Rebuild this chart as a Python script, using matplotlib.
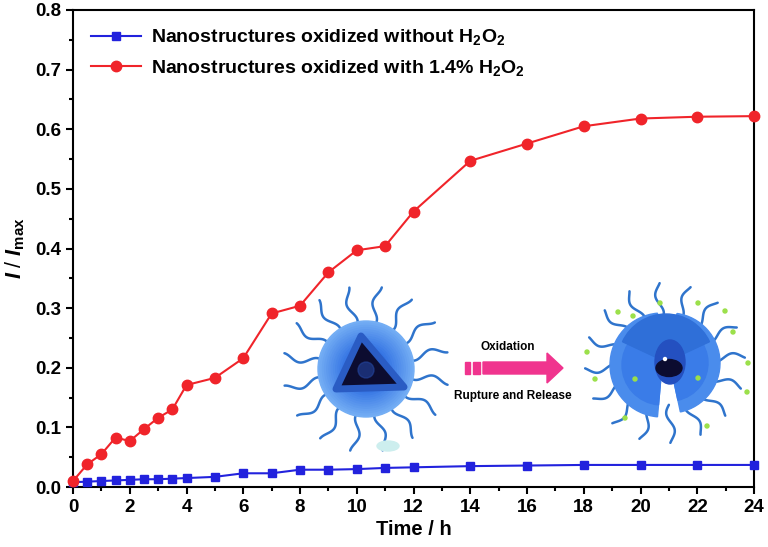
import numpy as np
import matplotlib
matplotlib.use("Agg")
import matplotlib.pyplot as plt
from matplotlib.patches import Circle, Polygon, Wedge, Ellipse, Rectangle
from matplotlib.colors import to_rgb

plt.rcParams['font.family'] = ['Liberation Sans', 'DejaVu Sans']
plt.rcParams['font.weight'] = 'bold'
plt.rcParams['mathtext.fontset'] = 'custom'
plt.rcParams['mathtext.rm'] = 'Liberation Sans:bold'
plt.rcParams['mathtext.bf'] = 'Liberation Sans:bold'
plt.rcParams['mathtext.it'] = 'Liberation Sans:italic:bold'

# data
time_h2o2 = [0, 0.5, 1, 1.5, 2, 2.5, 3, 3.5, 4, 5, 6, 7, 8, 9, 10, 11, 12, 14, 16, 18, 20, 22, 24]
ratio_h2o2 = [0.010, 0.038, 0.055, 0.083, 0.077, 0.097, 0.116, 0.130, 0.171, 0.183, 0.216,
              0.291, 0.304, 0.360, 0.397, 0.404, 0.462, 0.547, 0.576, 0.605, 0.618, 0.621, 0.622]
time_plain = [0, 0.5, 1, 1.5, 2, 2.5, 3, 3.5, 4, 5, 6, 7, 8, 9, 10, 11, 12, 14, 16, 18, 20, 22, 24]
ratio_plain = [0.008, 0.009, 0.010, 0.011, 0.012, 0.013, 0.013, 0.014, 0.015, 0.017, 0.023,
               0.023, 0.029, 0.029, 0.030, 0.032, 0.033, 0.035, 0.036, 0.037, 0.037, 0.037, 0.037]
label_plain = r'Nanostructures oxidized without H$_\mathbf{2}$O$_\mathbf{2}$'
label_h2o2 = r'Nanostructures oxidized with 1.4% H$_\mathbf{2}$O$_\mathbf{2}$'
x_ticks = np.arange(0, 25, 2)
y_ticks = np.arange(0, 0.81, 0.1)

fig = plt.figure(figsize=(7.68, 5.47), dpi=100)
ax = fig.add_axes([73 / 768, 1 - 487 / 547, 681 / 768, 477 / 547])

ax.plot(time_plain, ratio_plain, '-s', color='#2222dd', lw=1.5, ms=6, label=label_plain, clip_on=False, zorder=3)
ax.plot(time_h2o2, ratio_h2o2, '-o', color='#f0242a', lw=1.5, ms=7.5, label=label_h2o2, clip_on=False, zorder=4)

ax.set_xlim(0, 24)
ax.set_ylim(0, 0.8)
ax.set_xticks(x_ticks)
ax.set_xticks(np.arange(0, 25, 1), minor=True)
ax.set_yticks(y_ticks)
ax.set_yticks(np.arange(0, 0.81, 0.05), minor=True)
ax.set_xticklabels([str(v) for v in x_ticks], fontweight='bold', fontsize=13.5)
ax.set_yticklabels([f'{v:.1f}' for v in y_ticks], fontweight='bold', fontsize=13.5)
ax.tick_params(which='major', direction='out', length=5, width=1.5)
ax.tick_params(which='minor', direction='out', length=3, width=1.5)
for s in ax.spines.values():
    s.set_linewidth(1.5)
ax.set_xlabel('Time / h', fontsize=14.5, fontweight='bold', labelpad=3)
ax.set_ylabel(r'$I$ / $I_{\mathbf{max}}$', fontsize=15.5, labelpad=6)

leg = ax.legend(loc='upper left', frameon=False, prop={'weight': 'bold', 'size': 14},
                handlelength=2.6, borderaxespad=0.5, labelspacing=0.55, handletextpad=0.5)

# schematic overlay in pixel coordinates
ov = fig.add_axes([0, 0, 1, 1])
ov.set_xlim(0, 768)
ov.set_ylim(547, 0)
ov.axis('off')


def tails(cx, cy, R, n, L, off):
    for a in np.linspace(0, 2 * np.pi, n, endpoint=False) + off:
        s = np.linspace(0, L, 60)
        r = R - 6 + s
        w = 3.5 * np.sin(s / 5.5)
        x = cx + r * np.cos(a) - w * np.sin(a)
        y = cy + r * np.sin(a) + w * np.cos(a)
        ov.plot(x, y, color='#2f74cc', lw=1.8, solid_capstyle='round', zorder=1)


def sphere(cx, cy, R):
    outer = np.array(to_rgb('#74aef4'))
    inner = np.array(to_rgb('#2e6ee2'))
    for i in range(14):
        f = i / 13
        ov.add_patch(Circle((cx, cy), R * (1 - 0.6 * f), color=outer * (1 - f) + inner * f, zorder=2))


# left intact nanostructure
tails(366, 369, 47, 16, 42, 0.15)
sphere(366, 369, 48)
ov.add_patch(Polygon([(361, 336), (336, 389), (404, 387)], closed=True,
                     facecolor='#0c0c30', edgecolor='#2a5cc4', lw=5, joinstyle='round', zorder=3))
ov.add_patch(Circle((366, 370), 8, color='#2446a0', alpha=0.6, zorder=3))
ov.add_patch(Ellipse((388, 446), 22, 10, color='#cdeeee', zorder=1))

# arrow
pink = '#f0348e'
ov.add_patch(Rectangle((465, 362), 5, 12, color=pink, zorder=2))
ov.add_patch(Rectangle((473, 362), 7, 12, color=pink, zorder=2))
ov.add_patch(Polygon([(483, 362), (547, 362), (547, 353), (563, 368), (547, 383), (547, 374), (483, 374)],
                     closed=True, color=pink, zorder=2))
ov.text(508, 347, 'Oxidation', ha='center', va='center', fontsize=8.5, fontweight='bold')
ov.text(513, 396, 'Rupture and Release', ha='center', va='center', fontsize=8.5, fontweight='bold')

# right ruptured nanostructure
tails(665, 363, 48, 16, 38, 0.3)
ov.add_patch(Wedge((662, 365), 52, 95, 265, color='#4a8cec', zorder=2))
ov.add_patch(Wedge((662, 365), 40, 95, 265, color='#3a7ce8', zorder=2))
ov.add_patch(Wedge((670, 363), 50, -82, 78, color='#4a8cec', zorder=2))
ov.add_patch(Wedge((670, 363), 38, -82, 78, color='#3a7ce8', zorder=2))
ov.add_patch(Wedge((666, 362), 48, 205, 335, color='#2f6fd8', zorder=2))
ov.add_patch(Ellipse((670, 362), 30, 44, color='#2450c0', zorder=3))
ov.add_patch(Ellipse((669, 368), 26, 17, color='#0c0c30', zorder=4))
ov.add_patch(Circle((665, 359), 1.5, color='white', zorder=5))
greens = [(660, 303), (698, 303), (618, 312), (633, 316), (725, 311), (733, 332), (587, 352),
          (595, 379), (635, 379), (698, 378), (748, 363), (747, 392), (625, 418), (707, 426)]
for gx, gy in greens:
    ov.add_patch(Circle((gx, gy), 2, color='#9be04a', zorder=5))

fig.savefig('out.png', dpi=100)
